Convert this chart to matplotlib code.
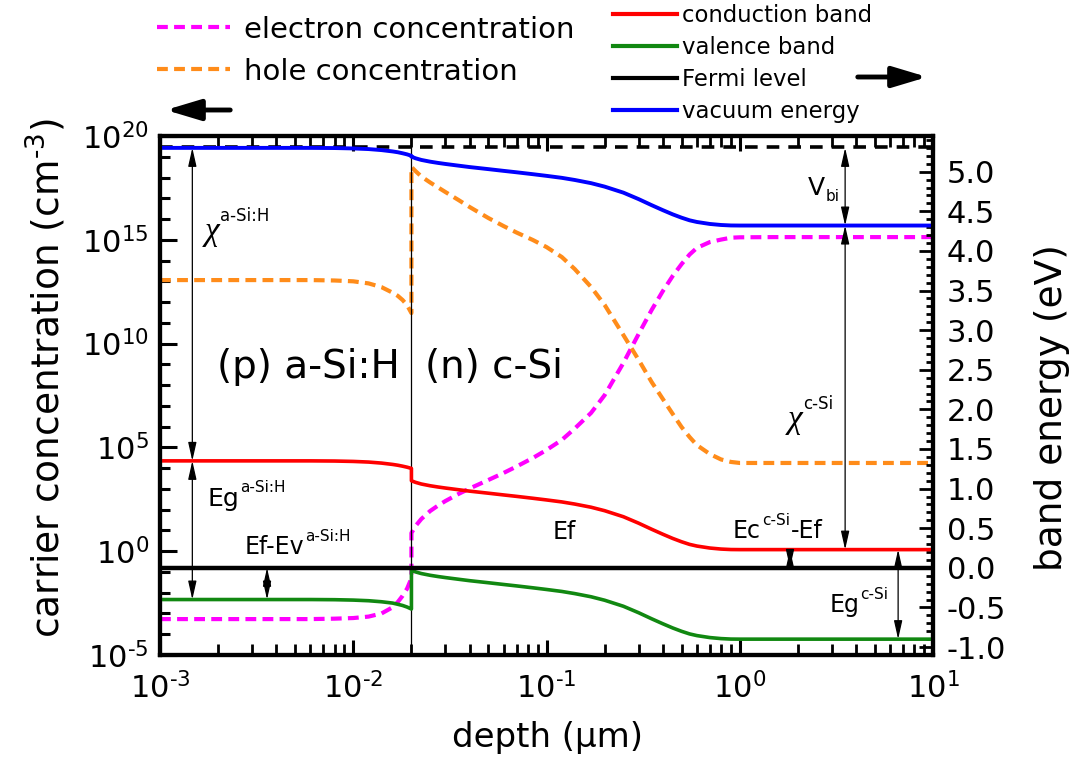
import numpy as np
import matplotlib
matplotlib.use('Agg')
import matplotlib.pyplot as plt
from matplotlib.lines import Line2D
from matplotlib.patches import FancyArrowPatch
from matplotlib.ticker import FixedLocator, MultipleLocator, NullFormatter, FormatStrFormatter, FuncFormatter

plt.rcParams['font.family'] = ['DejaVu Sans']
plt.rcParams['mathtext.fontset'] = 'dejavusans'
plt.rcParams['axes.unicode_minus'] = False

# ---------------- data ----------------
depth_a = [0.001, 0.002, 0.004, 0.006, 0.008, 0.010, 0.012, 0.014, 0.016, 0.017, 0.018, 0.019, 0.020]
depth_c = [0.02, 0.021, 0.0225, 0.025, 0.0275, 0.03, 0.035, 0.04, 0.05, 0.06, 0.07, 0.085,
           0.1, 0.12, 0.14, 0.17, 0.2, 0.25, 0.3, 0.35, 0.4, 0.45, 0.5, 0.55, 0.6, 0.7,
           0.8, 0.9, 1.0, 1.5, 2.0, 5.0, 10.0]

# band energies (eV)
vac_a = [5.30, 5.30, 5.30, 5.30, 5.298, 5.293, 5.285, 5.272, 5.255, 5.245, 5.232, 5.218, 5.20]
vac_c = [5.189, 5.169, 5.148, 5.126, 5.110, 5.097, 5.076, 5.058, 5.032, 5.010, 4.992, 4.968,
         4.947, 4.922, 4.895, 4.855, 4.811, 4.735, 4.653, 4.577, 4.514, 4.461, 4.419, 4.386,
         4.365, 4.340, 4.327, 4.321, 4.32, 4.32, 4.32, 4.32, 4.32]
ec_a = [1.35, 1.35, 1.35, 1.35, 1.348, 1.343, 1.335, 1.322, 1.305, 1.295, 1.283, 1.27, 1.255]
ec_c = [1.099, 1.079, 1.058, 1.036, 1.020, 1.007, 0.986, 0.968, 0.942, 0.920, 0.902, 0.878,
        0.857, 0.832, 0.805, 0.765, 0.721, 0.645, 0.563, 0.487, 0.424, 0.371, 0.329, 0.296,
        0.275, 0.250, 0.237, 0.231, 0.23, 0.23, 0.23, 0.23, 0.23]
ev_a = [-0.40, -0.40, -0.40, -0.40, -0.402, -0.407, -0.415, -0.428, -0.445, -0.46, -0.475,
        -0.495, -0.52]
ev_c = [-0.031, -0.051, -0.072, -0.094, -0.110, -0.123, -0.144, -0.162, -0.188, -0.210,
        -0.228, -0.252, -0.273, -0.298, -0.325, -0.365, -0.409, -0.485, -0.567, -0.643,
        -0.706, -0.759, -0.801, -0.834, -0.855, -0.880, -0.893, -0.899, -0.90, -0.90, -0.90,
        -0.90, -0.90]
fermi_depth = [0.001, 10.0]
fermi_level = [0.0, 0.0]
vac_ref_level = [5.31, 5.31]

# carrier concentrations, log10(cm^-3)
n_exp_a = [-3.27, -3.27, -3.27, -3.27, -3.25, -3.22, -3.15, -3.0, -2.7, -2.45, -2.15, -1.8, -1.3]
n_exp_c = [0.877, 1.214, 1.551, 1.937, 2.202, 2.418, 2.755, 3.02, 3.43, 3.77, 4.08, 4.49,
           4.875, 5.36, 5.91, 6.66, 7.52, 9.07, 10.47, 11.62, 12.53, 13.26, 13.83, 14.29,
           14.61, 14.89, 15.01, 15.10, 15.12, 15.13, 15.13, 15.13, 15.13]
p_exp_a = [13.06, 13.06, 13.06, 13.06, 13.04, 13.0, 12.9, 12.72, 12.45, 12.3, 12.1, 11.85, 11.47]
p_exp_c = [18.51, 18.31, 18.05, 17.76, 17.52, 17.30, 16.92, 16.58, 16.05, 15.66, 15.35,
           14.99, 14.65, 14.17, 13.59, 12.73, 11.86, 10.41, 9.21, 8.15, 7.33, 6.61, 5.98,
           5.50, 5.11, 4.68, 4.42, 4.30, 4.25, 4.25, 4.25, 4.25, 4.25]

left_ticks = [1e-5, 1e0, 1e5, 1e10, 1e15, 1e20]
right_tick_step = 0.5

# ---------------- figure ----------------
W, H = 1082, 770
fig = plt.figure(figsize=(W / 100, H / 100), dpi=100)
ax = fig.add_axes([160 / W, 1 - 655 / H, (933 - 160) / W, (655 - 136) / H])
ax2 = ax.twinx()

depth_all = depth_a + depth_c
n_all = 10.0 ** np.array(n_exp_a + n_exp_c)
p_all = 10.0 ** np.array(p_exp_a + p_exp_c)

MAG, ORA, RED, GRN, BLU = '#ff00ff', '#ff8c1a', '#ff0000', '#118811', '#0000ff'
dash = (0, (2.6, 1.5))
ax.plot(depth_all, n_all, color=MAG, lw=3, ls=dash)
ax.plot(depth_all, p_all, color=ORA, lw=3, ls=dash)
ax.axvline(0.02, color='k', lw=0.9)

ax.set_xscale('log')
ax.set_yscale('log')
ax.set_xlim(1e-3, 10)
ax.set_ylim(1e-5, 1e20)
ax.yaxis.set_major_locator(FixedLocator(left_ticks))
ax.yaxis.set_minor_locator(FixedLocator([10.0 ** k for k in range(-5, 21)]))
ax.yaxis.set_minor_formatter(NullFormatter())

def pow_fmt(v, pos):
    e = int(round(np.log10(v)))
    return r'10$^{\text{%d}}$' % e

ax.xaxis.set_major_formatter(FuncFormatter(pow_fmt))
ax.yaxis.set_major_formatter(FuncFormatter(pow_fmt))

ax2.plot(depth_all, ec_a + ec_c, color=RED, lw=2.6)
ax2.plot(depth_all, ev_a + ev_c, color=GRN, lw=2.6)
ax2.plot(fermi_depth, fermi_level, color='k', lw=3.2)
ax2.plot(depth_all, vac_a + vac_c, color=BLU, lw=2.8)
ax2.plot(fermi_depth, vac_ref_level, color='k', lw=2.6, ls=(0, (3.5, 2.5)), zorder=1)
ax2.set_ylim(-1.1, 5.45)
ax2.yaxis.set_major_locator(MultipleLocator(right_tick_step))
ax2.yaxis.set_minor_locator(MultipleLocator(0.1))
ax2.yaxis.set_major_formatter(FormatStrFormatter('%.1f'))

for a in (ax, ax2):
    for s in a.spines.values():
        s.set_linewidth(3)

ax.tick_params(axis='x', which='both', direction='in', top=True, bottom=True, labelsize=22, pad=12)
ax.tick_params(axis='x', which='major', length=11, width=2.2)
ax.tick_params(axis='x', which='minor', length=8, width=2.0)
ax.tick_params(axis='y', which='both', direction='in', left=True, right=False, labelsize=22, pad=8)
ax.tick_params(axis='y', which='major', length=12, width=2.2)
ax.tick_params(axis='y', which='minor', length=7, width=2.2)
ax2.tick_params(axis='y', which='both', direction='in', right=True, labelsize=22, pad=10)
ax2.tick_params(axis='y', which='major', length=10, width=2.0)
ax2.tick_params(axis='y', which='minor', length=5, width=2.0)

ax.set_xlabel('depth (µm)', fontsize=24.5, va='center')
ax.xaxis.set_label_coords((548 - 160) / 773, -(738 - 655) / 519)
ax.set_ylabel(r'carrier concentration (cm$^{\text{-3}}$)', fontsize=27, va='center')
ax.yaxis.set_label_coords((46 - 160) / 773, (655 - 378) / 519)
ax2.set_ylabel('band energy (eV)', fontsize=27, va='center', rotation=90)
ax2.yaxis.set_label_coords((1052 - 160) / 773, (655 - 408) / 519)

# annotations (double arrows)
def darrow(x, e1, e2):
    ax2.annotate('', xy=(x, e1), xytext=(x, e2),
                 arrowprops=dict(arrowstyle='<|-|>,head_length=0.8,head_width=0.18',
                                 color='k', lw=0.9, shrinkA=0, shrinkB=0, mutation_scale=14))

darrow(0.00147, 5.30, 1.35)
darrow(0.00147, 1.35, -0.40)
darrow(0.00358, 0.0, -0.40)
darrow(3.51, 5.30, 4.32)
darrow(3.51, 4.32, 0.23)
darrow(1.82, 0.23, 0.0)
darrow(6.6, 0.23, -0.90)

renderer = fig.canvas.get_renderer()

def label(x, y, base, sup=None, sub=None, tail=None, size=17, ssize=11, base_font=None):
    kw = dict(fontsize=size, ha='left', va='baseline')
    if base_font:
        kw.update(base_font)
    t = ax2.text(x, y, base, **kw)
    bb = t.get_window_extent(renderer)
    x0, y0 = ax2.transData.transform((x, y))
    dx = (bb.x1 - x0) * 72 / 100 + 0.5
    if sup:
        s = ax2.annotate(sup, xy=(x, y), xytext=(dx, size * 0.55), textcoords='offset points',
                         fontsize=ssize, ha='left', va='baseline')
        if tail:
            sb = s.get_window_extent(renderer)
            dx2 = (sb.x1 - x0) * 72 / 100 + 0.5
            ax2.annotate(tail, xy=(x, y), xytext=(dx2, 0), textcoords='offset points',
                         fontsize=size, ha='left', va='baseline')
    if sub:
        ax2.annotate(sub, xy=(x, y), xytext=(dx, -size * 0.25), textcoords='offset points',
                     fontsize=ssize, ha='left', va='baseline')

chi_font = dict(family='Liberation Serif', style='italic')
label(0.00171, 4.14, 'χ', sup='a-Si:H', size=24, ssize=12, base_font=chi_font)
label(0.00177, 0.78, 'Eg', sup='a-Si:H', size=18, ssize=11)
label(0.00275, 0.18, 'Ef-Ev', sup='a-Si:H', size=17, ssize=11)
label(1.78, 1.77, 'χ', sup='c-Si', size=24, ssize=12, base_font=chi_font)
label(2.26, 4.71, 'V', sub='bi', size=18, ssize=11)
label(0.923, 0.38, 'Ec', sup='c-Si', tail='-Ef', size=17, ssize=11)
label(2.93, -0.56, 'Eg', sup='c-Si', size=17, ssize=11)
ax2.text(0.108, 0.36, 'Ef', fontsize=17, ha='left', va='baseline')
ax2.text(0.00197, 2.40, '(p) a-Si:H', fontsize=28, ha='left', va='baseline')
ax2.text(0.0235, 2.40, '(n) c-Si', fontsize=28, ha='left', va='baseline')

# legends
h1 = [Line2D([], [], color=MAG, lw=3, ls=dash),
      Line2D([], [], color=ORA, lw=3, ls=dash)]
leg1 = fig.legend(h1, ['electron concentration', 'hole concentration'], loc='upper left',
                  bbox_to_anchor=(157 / W, 1 - 15.5 / H), frameon=False, fontsize=21,
                  handlelength=2.5, handletextpad=0.5, labelspacing=0.48,
                  borderpad=0, borderaxespad=0)
h2 = [Line2D([], [], color=RED, lw=3),
      Line2D([], [], color=GRN, lw=3),
      Line2D([], [], color='k', lw=3),
      Line2D([], [], color=BLU, lw=3)]
leg2 = fig.legend(h2, ['conduction band', 'valence band', 'Fermi level', 'vacuum energy'],
                  loc='upper left', bbox_to_anchor=(613 / W, 1 - 4 / H), frameon=False,
                  fontsize=16.4, handlelength=2.8, handletextpad=0.22, labelspacing=0.39,
                  borderpad=0, borderaxespad=0)

# axis-indicator arrows
for (x0, x1, yy) in [(233, 163, 110), (855, 930, 77)]:
    fig.add_artist(FancyArrowPatch((x0 / W, 1 - yy / H), (x1 / W, 1 - yy / H),
                                   transform=fig.transFigure,
                                   arrowstyle='-|>,head_length=1.5,head_width=0.45',
                                   mutation_scale=14, lw=3.5, color='k'))

fig.savefig('out.png', dpi=100)
